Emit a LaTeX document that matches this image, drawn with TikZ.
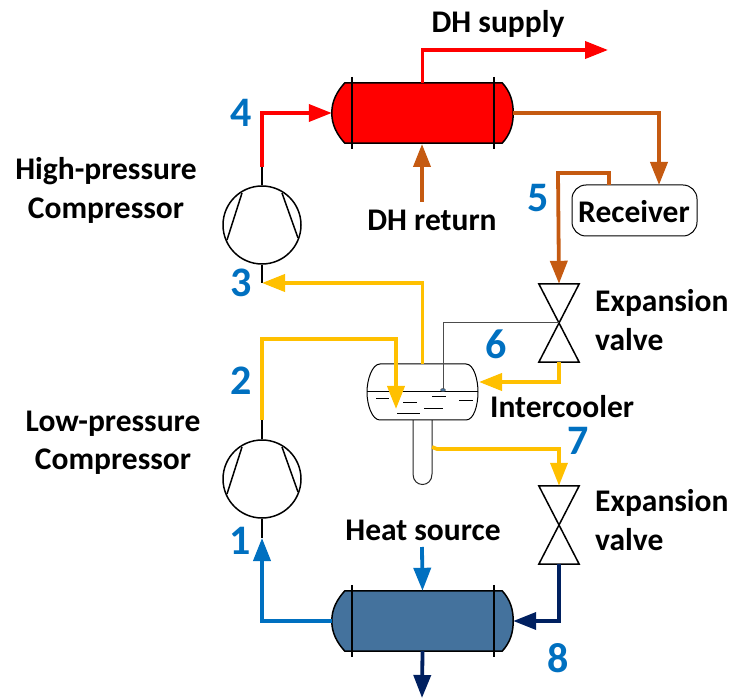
\documentclass[tikz,border=0pt]{standalone}
\usepackage{fontspec}
\setmainfont{Carlito}
\usetikzlibrary{shapes.geometric, arrows.meta, positioning, calc}

\definecolor{hotred}{HTML}{FF0000}
\definecolor{retbrown}{HTML}{C55A11}
\definecolor{midyellow}{HTML}{FFC000}
\definecolor{numblue}{HTML}{0070C0}
\definecolor{darkblue}{HTML}{002060}
\definecolor{shellblue}{HTML}{44729D}

% outline of a heat exchanger round a named node
\newcommand{\hxshell}[2]{
  \draw [outl, fill=#2] ($(#1.north west)+(13,0)$) -- ($(#1.north east)+(-11,0)$)
    .. controls +(8,9) and +(0,-12) .. (#1.east)
    .. controls +(0,12) and +(8,-9) .. ($(#1.south east)+(-11,0)$)
    -- ($(#1.south west)+(13,0)$)
    .. controls +(-8,-9) and +(0,12) .. (#1.west)
    .. controls +(0,-12) and +(-8,9) .. cycle;
  \draw [outl] ($(#1.north west)+(20,-6)$) -- ($(#1.south west)+(20,6)$);
  \draw [outl] ($(#1.north east)+(-19,-6)$) -- ($(#1.south east)+(-19,6)$);
}
% blades of a compressor
\newcommand{\blades}[1]{
  \draw [outl] (#1) +(-20,-32) -- +(-35,15) +(20,-32) -- +(36,13);
}
% two triangles of a valve
\newcommand{\valvetie}[1]{
  \draw [outl] (#1.north west) -- (#1.north east) -- (#1.south west) -- (#1.south east) -- cycle;
}

\begin{document}
\begin{tikzpicture}
  [x=1pt, y=-1pt, on grid,
  % equipment
  hx/.style = {rectangle, inner sep=0pt,
    minimum width = 181pt,
    minimum height = 60pt},
  comp/.style = {circle, draw, line width=1.5pt, inner sep=0pt,
    minimum size = 78pt},
  valve/.style = {rectangle, inner sep=0pt,
    minimum width = 40pt,
    minimum height = 78pt},
  outl/.style = {draw, line width=1.5pt},
  % text
  txt/.style = {font=\fontsize{31.5}{34}\selectfont\bfseries, inner sep=0pt},
  num/.style = {font=\fontsize{42}{45}\selectfont\bfseries, text=numblue, inner sep=0pt},
  % line
  line/.style = {draw, line width=3.8pt,
    -{Triangle[length=23pt, width=17pt]}},
  stub/.style = {draw, line width=1.5pt},
  ]

  \useasboundingbox (0,0) rectangle (731,700);

  % nodes
  \node [hx] (cond) at (422.5,113) {};
  \node [hx, below=508pt of cond] (evap) {};
  \node [comp, below left=112pt and 160.5pt of cond] (comphi) {};
  \node [comp, below=254pt of comphi] (complo) {};
  \node [valve] (valhi) at (559,323) {};
  \node [valve, below=202pt of valhi] (vallo) {};
  \node [rectangle, rounded corners=14pt, draw, line width=1pt, minimum width=125pt,
    minimum height=51pt, inner sep=0pt] (recv) at (634.5,210.5) {};
  \node [rectangle, inner sep=0pt, minimum width=111pt, minimum height=56pt] (cool) at (422.5,392) {};

  % free ends
  \coordinate (hiout) at (262,167);
  \coordinate (hiin) at (262,283);
  \coordinate (loout) at (262,420);
  \coordinate (loin) at (262,538);
  \coordinate (supply) at (608,50);
  \coordinate (retstart) at (422,202);
  \coordinate (retend) at (422,144);
  \coordinate (recvout) at (609,185);
  \coordinate (recvbend) at (558,173);
  \coordinate (recvin) at (659,185);
  \coordinate (bend2) at (396,339);
  \coordinate (tip2) at (396,409);
  \coordinate (in6) at (479,382);
  \coordinate (leg7) at (432,447);
  \coordinate (sourcetop) at (422,547);
  \coordinate (sinkend) at (422,698);
  \coordinate (blob) at (443,390);

  % shells
  \hxshell{cond}{hotred}
  \hxshell{evap}{shellblue}
  \blades{comphi}
  \blades{complo}
  \valvetie{valhi}
  \valvetie{vallo}

  % intercooler
  \draw [draw=black!85, line width=1pt, fill=white] (413,420) -- (413,474)
    .. controls (413,488) and (432,488) .. (432,474) -- (432,420);
  \draw [outl, line width=1pt, fill=white] (380,364) -- (466,364)
    .. controls (474,364) and (478,380) .. (478,392)
    .. controls (478,405) and (474,420) .. (466,420)
    -- (380,420)
    .. controls (372,420) and (367,405) .. (367,392)
    .. controls (367,380) and (372,364) .. (380,364) -- cycle;
  \draw [line width=1pt] (cool.west) -- (cool.east);
  \draw [line width=1pt]
    (376,399) -- (389,399)  (403,403) -- (417,403)  (432,397) -- (446,397)
    (459,401) -- (473,401)  (424,409) -- (443,409)  (397,414) -- (420,414);

  % path
  \path [stub] (comphi.north) -- (hiout);
  \path [stub] (comphi.south) -- (hiin);
  \path [stub] (complo.north) -- (loout);
  \path [stub] (complo.south) -- (loin);
  \path [draw, black!70, line width=1pt] (valhi.center) -| (blob);
  \node [ellipse, fill=shellblue, draw=black!70, inner sep=0pt, minimum width=5pt, minimum height=3pt] (drop) at (blob) {};

  \path [line, hotred] (hiout) |- (cond.west);
  \path [line, hotred] (cond.north) |- (supply);
  \path [line, retbrown] (retstart) -- (retend);
  \path [line, retbrown] (cond.east) -| (recvin);
  \path [line, retbrown] (recvout) |- (recvbend) -- (valhi.north);
  \path [line, midyellow] (loout) |- (bend2) -- (tip2);
  \path [line, midyellow] (cool.north) |- (hiin);
  \path [line, midyellow] (valhi.south) |- (in6);
  \path [line, midyellow] (leg7) -- ++(5,2) -| (vallo.north);
  \path [line, numblue] (evap.west) -| (loin);
  \path [line, numblue] (sourcetop) -- (evap.north);
  \path [line, darkblue] (vallo.south) |- (evap.east);
  \path [line, darkblue] (evap.south) -- (sinkend);

  % labels
  \node [txt] (supplylab) at (498,24) {DH supply};
  \node [txt] (retlab) at (432,220) {DH return};
  \node [txt] (recvlab) at (634,212) {Receiver};
  \node [txt] (hilab1) at (106,171) {High-pressure};
  \node [txt] (hilab2) at (106,211) {Compressor};
  \node [txt] (lolab1) at (113,424) {Low-pressure};
  \node [txt] (lolab2) at (113,462) {Compressor};
  \node [txt, anchor=west] (exphi1) at (595,303) {Expansion};
  \node [txt, anchor=west] (exphi2) at (595,340) {valve};
  \node [txt, anchor=west] (explo1) at (595,503) {Expansion};
  \node [txt, anchor=west] (explo2) at (595,540) {valve};
  \node [txt, anchor=west] (coollab) at (490,407) {Intercooler};
  \node [txt] (sourcelab) at (423,530) {Heat source};
  \node [num] (n1) at (240,541) {1};
  \node [num] (n2) at (241,381) {2};
  \node [num] (n3) at (241,283) {3};
  \node [num] (n4) at (241,113) {4};
  \node [num] (n5) at (538,198) {5};
  \node [num] (n6) at (496,344) {6};
  \node [num] (n7) at (578,441) {7};
  \node [num] (n8) at (558,658) {8};

\end{tikzpicture}
\end{document}
